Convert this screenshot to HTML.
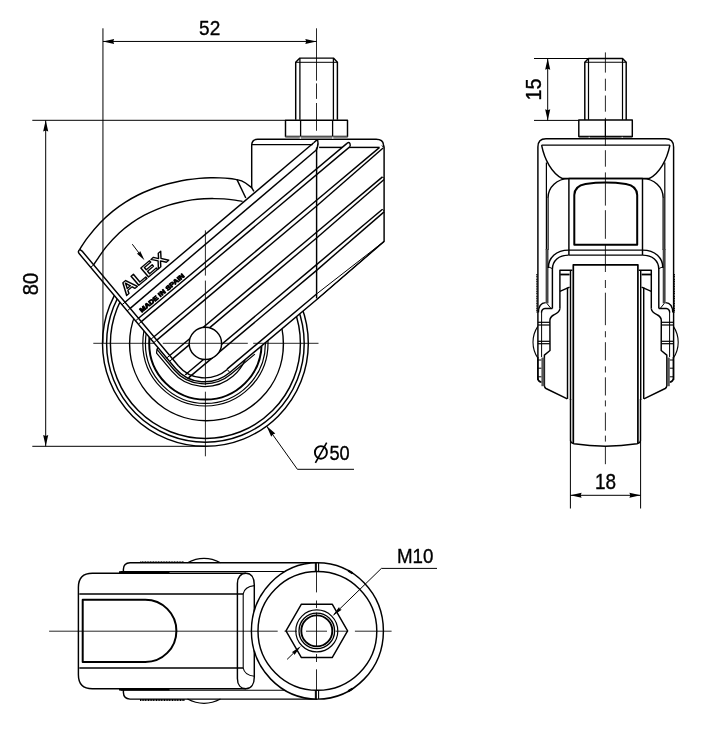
<!DOCTYPE html>
<html><head><meta charset="utf-8"><title>Caster drawing</title>
<style>
html,body{margin:0;padding:0;background:#fff;}
body{width:713px;height:742px;overflow:hidden;}
svg{display:block;will-change:transform;}
svg text{font-family:"Liberation Sans",sans-serif;}
</style></head>
<body>
<svg width="713" height="742" viewBox="0 0 713 742" stroke="#000" fill="none" stroke-linecap="butt" stroke-linejoin="round">
<rect x="0" y="0" width="713" height="742" fill="#fff" stroke="none"/>
<circle cx="205.40" cy="343.40" r="102.90" stroke-width="1.45" fill="none" />
<circle cx="205.40" cy="343.40" r="98.80" stroke-width="1.45" fill="none" />
<circle cx="205.40" cy="343.40" r="95.00" stroke-width="1.45" fill="none" />
<circle cx="205.40" cy="343.40" r="62.60" stroke-width="1.2" fill="none" />
<circle cx="205.40" cy="343.40" r="60.00" stroke-width="1.2" fill="none" />
<circle cx="205.40" cy="343.40" r="56.20" stroke-width="2.0" fill="none" />
<circle cx="206.50" cy="343.90" r="76.90" stroke-width="1.45" fill="none" />
<path d="M 157.85,347.40 L 156.96,349.45 L 173.99,369.75 A 41.0 40.0 -40.0 0 0 231.11,374.04 L 254.86,354.12" stroke-width="1.25" fill="none" />
<path d="M 156.96,349.45 L 156.57,353.04 L 172.00,371.43 A 43.6 42.8 -40.0 0 0 232.91,376.19 A 43.6 42.8 -40.0 0 0 245.15,359.65" stroke-width="1.25" fill="none" />
<path d="M 79.68,249.42 C 81.00,247.45 84.18,242.05 87.60,237.60 C 91.02,233.15 95.98,227.12 100.20,222.70 C 104.42,218.28 108.68,214.53 112.90,211.10 C 117.12,207.67 121.30,204.78 125.50,202.10 C 129.70,199.42 133.90,197.10 138.10,195.00 C 142.30,192.90 146.55,191.12 150.70,189.50 C 154.85,187.88 158.95,186.52 163.00,185.30 C 167.05,184.08 171.00,183.12 175.00,182.20 C 179.00,181.28 183.00,180.43 187.00,179.80 C 191.00,179.17 195.08,178.73 199.00,178.40 C 202.92,178.07 207.00,177.88 210.50,177.80 C 214.00,177.72 216.85,177.78 220.00,177.90 C 223.15,178.02 226.57,178.22 229.40,178.50 C 232.23,178.78 235.73,179.42 237.00,179.60 Q 242.0,180.4 245.5,183.0 L 251.7,187.6 L 251.7,145.3 Q 251.7,139.3 257.7,139.3 L 376.1,139.3 Q 383.1,139.3 383.5,144.9 L 384.1,147.3 L 384.10,241.40 L 317.40,299.03 L 229.83,372.51 A 39.0 38.0 -40.0 0 1 175.52,368.47 L 79.11,253.56 Q 77.43,251.57 79.68,249.42 Z" stroke-width="1.45" fill="#fff" />
<line x1="125.03" y1="302.23" x2="313.70" y2="142.70" stroke-width="1.45" />
<line x1="130.17" y1="308.36" x2="316.00" y2="150.21" stroke-width="1.45" />
<path d="M 313.70,142.70 Q 316.0,140.6 317.6,139.6 Q 318.6,143.5 317.4,147.2 Q 317.0,148.8 316.00,150.21" stroke-width="1.45" fill="none" />
<line x1="251.70" y1="144.60" x2="312.60" y2="144.60" stroke-width="1.3" />
<line x1="251.70" y1="187.60" x2="253.90" y2="191.30" stroke-width="1.45" />
<line x1="138.53" y1="318.31" x2="346.98" y2="143.40" stroke-width="1.45" />
<line x1="141.36" y1="321.68" x2="350.02" y2="146.60" stroke-width="1.45" />
<path d="M 346.98,143.40 Q 350.38,140.60 350.22,146.40" stroke-width="1.45" fill="none" />
<line x1="153.96" y1="336.70" x2="316.60" y2="200.23" stroke-width="1.45" />
<line x1="156.79" y1="340.07" x2="316.60" y2="205.97" stroke-width="1.45" />
<line x1="316.60" y1="200.23" x2="379.32" y2="147.60" stroke-width="1.45" />
<line x1="316.60" y1="205.97" x2="383.10" y2="148.00" stroke-width="1.45" />
<line x1="169.71" y1="355.47" x2="316.60" y2="232.21" stroke-width="1.45" />
<line x1="172.53" y1="358.84" x2="316.60" y2="237.95" stroke-width="1.45" />
<line x1="316.60" y1="232.21" x2="382.50" y2="176.91" stroke-width="1.45" />
<line x1="316.60" y1="237.95" x2="384.10" y2="179.47" stroke-width="1.45" />
<line x1="382.50" y1="176.91" x2="384.10" y2="178.51" stroke-width="1.0" />
<line x1="185.65" y1="374.46" x2="316.60" y2="264.58" stroke-width="1.45" />
<line x1="188.48" y1="377.84" x2="316.60" y2="270.33" stroke-width="1.45" />
<line x1="316.60" y1="264.58" x2="382.50" y2="209.29" stroke-width="1.45" />
<line x1="316.60" y1="270.33" x2="384.10" y2="211.84" stroke-width="1.45" />
<line x1="382.50" y1="209.29" x2="384.10" y2="210.89" stroke-width="1.0" />
<line x1="227.00" y1="369.14" x2="316.60" y2="293.95" stroke-width="1.45" />
<line x1="316.60" y1="293.95" x2="384.10" y2="241.40" stroke-width="1.0" />
<line x1="317.40" y1="299.03" x2="384.10" y2="241.40" stroke-width="1.0" />
<line x1="316.60" y1="147.50" x2="316.60" y2="298.43" stroke-width="1.45" />
<line x1="319.10" y1="147.40" x2="342.22" y2="147.40" stroke-width="1.45" />
<line x1="349.06" y1="147.40" x2="379.60" y2="147.40" stroke-width="1.45" />
<path d="M 381.70000000000005,145.6 L 384.1,147.4" stroke-width="1.0" fill="none" />
<path d="M 93.66,264.84 C 94.24,263.97 94.94,262.67 97.10,259.60 C 99.26,256.53 102.92,250.83 106.60,246.40 C 110.28,241.97 115.00,236.92 119.20,233.00 C 123.40,229.08 127.60,225.87 131.80,222.90 C 136.00,219.93 140.20,217.47 144.40,215.20 C 148.60,212.93 153.07,210.93 157.00,209.30 C 160.93,207.67 164.17,206.58 168.00,205.40 C 171.83,204.22 176.00,203.12 180.00,202.20 C 184.00,201.28 188.00,200.47 192.00,199.90 C 196.00,199.33 200.33,199.02 204.00,198.80 C 207.67,198.58 210.67,198.58 214.00,198.60 C 217.33,198.62 220.50,198.65 224.00,198.90 C 227.50,199.15 231.90,199.68 235.00,200.10 C 238.10,200.52 241.33,201.18 242.60,201.40" stroke-width="1.45" fill="none" />
<line x1="237.00" y1="179.60" x2="245.80" y2="198.00" stroke-width="1.45" />
<path d="M 79.68,249.42 L 82.09,251.06 L 178.51,365.96" stroke-width="1.45" fill="none" />
<path d="M 178.51,365.96 A 35.1 34.0 -40.0 0 0 227.25,369.45" stroke-width="1.45" fill="none" />
<line x1="93.66" y1="264.84" x2="90.68" y2="267.35" stroke-width="1.0" />
<line x1="125.03" y1="302.23" x2="122.04" y2="304.73" stroke-width="1.0" />
<line x1="130.17" y1="308.36" x2="127.19" y2="310.86" stroke-width="1.0" />
<line x1="138.53" y1="318.31" x2="135.54" y2="320.82" stroke-width="1.0" />
<line x1="141.36" y1="321.68" x2="138.37" y2="324.19" stroke-width="1.0" />
<line x1="153.96" y1="336.70" x2="150.97" y2="339.21" stroke-width="1.0" />
<line x1="156.79" y1="340.07" x2="153.80" y2="342.58" stroke-width="1.0" />
<line x1="169.71" y1="355.47" x2="166.72" y2="357.97" stroke-width="1.0" />
<line x1="172.53" y1="358.84" x2="169.55" y2="361.34" stroke-width="1.0" />
<line x1="187.92" y1="372.56" x2="184.69" y2="375.26" stroke-width="1.0" />
<line x1="192.18" y1="374.73" x2="188.79" y2="377.58" stroke-width="1.0" />
<line x1="227.25" y1="369.45" x2="229.83" y2="372.51" stroke-width="1.0" />
<circle cx="205.40" cy="343.40" r="16.20" stroke-width="1.45" fill="#fff" />
<g transform="translate(126.30 295.81) rotate(-40.0)"><text x="0" y="0" font-size="17.5" font-weight="bold" fill="#fff" stroke="#000" stroke-width="1.3" textLength="55.5" lengthAdjust="spacingAndGlyphs">ALEX</text></g>
<g transform="translate(141.79 312.71) rotate(-40.0)"><text x="0" y="0" font-size="6.3" font-weight="bold" fill="#000" stroke="#000" stroke-width="0.85" textLength="56.3" lengthAdjust="spacingAndGlyphs">MADE IN SPAIN</text></g>
<line x1="132.30" y1="244.20" x2="142.00" y2="257.00" stroke-width="1.0" />
<polygon points="144.50,260.20 136.77,253.52 138.98,252.96 140.11,250.97" fill="#000" stroke="none"/>
<path d="M 295.7,119.8 L 295.7,62.3 L 299.9,58.1 L 333.4,58.1 L 337.4,62.3 L 337.4,119.8" stroke-width="1.45" fill="none" />
<line x1="295.70" y1="62.30" x2="337.40" y2="62.30" stroke-width="1.0" />
<line x1="299.90" y1="58.10" x2="299.90" y2="119.80" stroke-width="1.3" />
<line x1="333.40" y1="58.10" x2="333.40" y2="119.80" stroke-width="1.3" />
<rect x="285.5" y="120.2" width="62.0" height="16.2" fill="#fff" stroke-width="1.45"/>
<line x1="300.60" y1="120.10" x2="300.60" y2="136.40" stroke-width="1.3" />
<line x1="332.60" y1="120.10" x2="332.60" y2="136.40" stroke-width="1.3" />
<rect x="285.5" y="136.4" width="62.0" height="2.6" fill="#888" stroke="none"/>
<line x1="300.30" y1="136.90" x2="300.30" y2="139.00" stroke-width="0.9" stroke="#fff"/>
<line x1="332.80" y1="136.90" x2="332.80" y2="139.00" stroke-width="0.9" stroke="#fff"/>
<line x1="316.50" y1="28.30" x2="316.50" y2="130.80" stroke-width="0.85" stroke-dasharray="52.4 2.7 15.5 4.1 28"/>
<line x1="93.30" y1="343.30" x2="318.50" y2="343.30" stroke-width="0.85" stroke-dasharray="61.5 8 85 5.4 66"/>
<line x1="205.40" y1="230.40" x2="205.40" y2="456.30" stroke-width="0.85" stroke-dasharray="45.2 5 104.7 6.4 65"/>
<line x1="102.95" y1="28.30" x2="102.95" y2="343.00" stroke-width="1.0" />
<line x1="102.95" y1="41.45" x2="316.50" y2="41.45" stroke-width="1.0" />
<polygon points="102.95,41.45 114.15,38.90 113.25,41.45 114.15,44.00" fill="#000" stroke="none"/>
<polygon points="316.50,41.45 305.30,44.00 306.20,41.45 305.30,38.90" fill="#000" stroke="none"/>
<text x="0" y="0" font-size="20.8" text-anchor="middle" fill="#000" stroke="#000" stroke-width="0.35" transform="translate(209.70 35.00) scale(0.915 1)">52</text>
<line x1="32.30" y1="120.30" x2="285.40" y2="120.30" stroke-width="1.0" />
<line x1="32.30" y1="446.30" x2="205.00" y2="446.30" stroke-width="1.0" />
<line x1="45.70" y1="120.30" x2="45.70" y2="446.30" stroke-width="1.0" />
<polygon points="45.70,120.30 48.25,131.50 45.70,130.60 43.15,131.50" fill="#000" stroke="none"/>
<polygon points="45.70,446.30 43.15,435.10 45.70,436.00 48.25,435.10" fill="#000" stroke="none"/>
<text x="0" y="0" font-size="21.2" text-anchor="middle" fill="#000" stroke="#000" stroke-width="0.35" transform="translate(38.10 284.00) rotate(-90) scale(0.95 1)">80</text>
<line x1="266.61" y1="426.12" x2="297.40" y2="469.30" stroke-width="1.0" />
<line x1="297.40" y1="469.30" x2="354.00" y2="469.30" stroke-width="1.0" />
<polygon points="266.61,426.12 275.32,433.60 272.73,434.40 271.22,436.64" fill="#000" stroke="none"/>
<ellipse cx="320.9" cy="452.4" rx="6.0" ry="6.3" stroke-width="1.9" fill="none"/>
<line x1="315.40" y1="462.80" x2="326.70" y2="442.60" stroke-width="1.6" />
<text x="0" y="0" font-size="20.6" text-anchor="start" fill="#000" stroke="#000" stroke-width="0.35" transform="translate(329.40 459.60) scale(0.885 1)">50</text>
<path d="M 584.8,119.9 L 584.8,62.3 L 588.5,58.4 L 622.5,58.4 L 626.2,62.3 L 626.2,119.9" stroke-width="1.45" fill="none" />
<line x1="584.80" y1="62.30" x2="626.20" y2="62.30" stroke-width="1.1" />
<line x1="588.50" y1="58.40" x2="588.50" y2="119.90" stroke-width="1.2" />
<line x1="622.50" y1="58.40" x2="622.50" y2="119.90" stroke-width="1.2" />
<rect x="578.8" y="119.9" width="53.5" height="16.6" fill="#fff" stroke-width="1.45"/>
<line x1="605.40" y1="119.90" x2="605.40" y2="136.50" stroke-width="1.2" />
<rect x="578.8" y="136.9" width="53.5" height="2.0" fill="#777" stroke="none"/>
<line x1="589.20" y1="136.80" x2="589.20" y2="139.00" stroke-width="0.9" stroke="#fff"/>
<line x1="622.20" y1="136.80" x2="622.20" y2="139.00" stroke-width="0.9" stroke="#fff"/>
<path d="M 537.9,380 L 537.9,147 Q 537.9,138.8 546,138.8 L 665.4,138.8 Q 673.6,138.8 673.6,147 L 673.6,380" stroke-width="1.45" fill="none" />
<line x1="541.60" y1="145.10" x2="669.90" y2="145.10" stroke-width="1.45" />
<path d="M 541.6,145.1 C 544.5,160 552,173 562,178.4" stroke-width="1.45" fill="none" />
<path d="M 669.9,145.1 C 667.0,160 659.5,173 649.5,178.4" stroke-width="1.45" fill="none" />
<line x1="546.40" y1="162.50" x2="546.40" y2="250.00" stroke-width="1.2" />
<line x1="548.10" y1="198.00" x2="548.10" y2="250.00" stroke-width="1.2" />
<rect x="545.60" y="249" width="2.9" height="54.4" fill="#444" stroke="none"/>
<path d="M 548.00,198.00 C 548.00,187.00 557.00,178.60 568.90,178.60" stroke-width="1.45" fill="none" />
<path d="M 548.30,268.00 C 548.30,258.00 556.00,250.10 568.70,250.10" stroke-width="1.45" fill="none" />
<path d="M 552.40,308.50 L 552.40,269.00 C 552.60,261.00 558.50,255.10 568.70,255.10" stroke-width="1.45" fill="none" />
<line x1="548.60" y1="266.90" x2="552.30" y2="268.60" stroke-width="1.0" />
<line x1="536.90" y1="274.00" x2="536.90" y2="312.50" stroke-width="1.2" stroke-dasharray="1.2 0.5"/>
<path d="M 572.40,270.30 L 559.90,270.30 L 559.90,308.50" stroke-width="1.45" fill="none" />
<line x1="559.90" y1="291.30" x2="569.60" y2="287.10" stroke-width="1.45" />
<line x1="560.20" y1="274.50" x2="569.60" y2="274.50" stroke-width="1.8" />
<line x1="567.50" y1="287.50" x2="567.50" y2="398.90" stroke-width="1.45" />
<line x1="570.50" y1="270.30" x2="570.50" y2="400.00" stroke-width="1.45" />
<path d="M 545.60,302.60 C 541.20,302.80 538.60,305.50 538.40,312.60" stroke-width="1.45" fill="none" />
<path d="M 552.40,308.50 L 545.00,308.50 C 542.60,308.80 541.60,310.00 541.50,312.50" stroke-width="1.45" fill="none" />
<line x1="546.90" y1="303.40" x2="550.60" y2="308.00" stroke-width="1.0" />
<line x1="541.60" y1="312.00" x2="541.60" y2="357.00" stroke-width="1.0" />
<path d="M 559.90,308.50 C 559.60,312.50 556.50,313.60 553.60,315.00 C 550.80,316.60 549.90,318.00 549.90,320.50 L 550.00,350.50 L 544.40,355.10 L 544.40,385.60 Q 544.40,387.60 546.00,388.50 L 567.30,398.90" stroke-width="1.45" fill="none" />
<line x1="537.90" y1="322.30" x2="549.90" y2="322.30" stroke-width="1.2" />
<line x1="537.90" y1="325.00" x2="549.90" y2="325.00" stroke-width="1.2" />
<line x1="537.90" y1="341.30" x2="549.90" y2="341.30" stroke-width="1.2" />
<line x1="537.90" y1="343.70" x2="549.90" y2="343.70" stroke-width="1.2" />
<path d="M 537.80,326.40 C 531.40,336.00 531.40,348.50 537.80,358.00" stroke-width="1.1" fill="none" />
<rect x="541.40" y="357.6" width="3.0" height="28.6" fill="#555" stroke="none"/>
<path d="M 537.80,357.00 L 537.80,378.40 Q 538.00,381.60 541.40,382.20" stroke-width="1.45" fill="none" />
<line x1="537.90" y1="360.00" x2="541.40" y2="360.00" stroke-width="1.0" />
<line x1="537.90" y1="368.20" x2="541.40" y2="368.20" stroke-width="1.0" />
<line x1="537.90" y1="376.80" x2="541.40" y2="376.80" stroke-width="1.0" />
<line x1="664.80" y1="162.50" x2="664.80" y2="250.00" stroke-width="1.2" />
<line x1="663.10" y1="198.00" x2="663.10" y2="250.00" stroke-width="1.2" />
<rect x="662.70" y="249" width="2.9" height="54.4" fill="#444" stroke="none"/>
<path d="M 663.20,198.00 C 663.20,187.00 654.20,178.60 642.30,178.60" stroke-width="1.45" fill="none" />
<path d="M 662.90,268.00 C 662.90,258.00 655.20,250.10 642.50,250.10" stroke-width="1.45" fill="none" />
<path d="M 658.80,308.50 L 658.80,269.00 C 658.60,261.00 652.70,255.10 642.50,255.10" stroke-width="1.45" fill="none" />
<line x1="662.60" y1="266.90" x2="658.90" y2="268.60" stroke-width="1.0" />
<line x1="674.30" y1="274.00" x2="674.30" y2="312.50" stroke-width="1.2" stroke-dasharray="1.2 0.5"/>
<path d="M 638.80,270.30 L 651.30,270.30 L 651.30,308.50" stroke-width="1.45" fill="none" />
<line x1="651.30" y1="291.30" x2="641.60" y2="287.10" stroke-width="1.45" />
<line x1="651.00" y1="274.50" x2="641.60" y2="274.50" stroke-width="1.8" />
<line x1="643.70" y1="287.50" x2="643.70" y2="398.90" stroke-width="1.45" />
<line x1="640.70" y1="270.30" x2="640.70" y2="400.00" stroke-width="1.45" />
<path d="M 665.60,302.60 C 670.00,302.80 672.60,305.50 672.80,312.60" stroke-width="1.45" fill="none" />
<path d="M 658.80,308.50 L 666.20,308.50 C 668.60,308.80 669.60,310.00 669.70,312.50" stroke-width="1.45" fill="none" />
<line x1="664.30" y1="303.40" x2="660.60" y2="308.00" stroke-width="1.0" />
<line x1="669.60" y1="312.00" x2="669.60" y2="357.00" stroke-width="1.0" />
<path d="M 651.30,308.50 C 651.60,312.50 654.70,313.60 657.60,315.00 C 660.40,316.60 661.30,318.00 661.30,320.50 L 661.20,350.50 L 666.80,355.10 L 666.80,385.60 Q 666.80,387.60 665.20,388.50 L 643.90,398.90" stroke-width="1.45" fill="none" />
<line x1="673.30" y1="322.30" x2="661.30" y2="322.30" stroke-width="1.2" />
<line x1="673.30" y1="325.00" x2="661.30" y2="325.00" stroke-width="1.2" />
<line x1="673.30" y1="341.30" x2="661.30" y2="341.30" stroke-width="1.2" />
<line x1="673.30" y1="343.70" x2="661.30" y2="343.70" stroke-width="1.2" />
<path d="M 673.40,326.40 C 679.80,336.00 679.80,348.50 673.40,358.00" stroke-width="1.1" fill="none" />
<rect x="666.80" y="357.6" width="3.0" height="28.6" fill="#555" stroke="none"/>
<path d="M 673.40,357.00 L 673.40,378.40 Q 673.20,381.60 669.80,382.20" stroke-width="1.45" fill="none" />
<line x1="673.30" y1="360.00" x2="669.80" y2="360.00" stroke-width="1.0" />
<line x1="673.30" y1="368.20" x2="669.80" y2="368.20" stroke-width="1.0" />
<line x1="673.30" y1="376.80" x2="669.80" y2="376.80" stroke-width="1.0" />
<path d="M 568.9,255.1 L 568.9,178.4 L 642.5,178.4 L 642.5,255.1" stroke-width="1.45" fill="none" />
<line x1="561.50" y1="178.40" x2="650.00" y2="178.40" stroke-width="1.45" />
<path d="M 574.3,244.7 L 574.3,195.0 Q 574.5,185.8 585.5,183.9 Q 605.7,181.0 625.9,183.9 Q 637.0,185.8 637.2,195.0 L 637.2,244.7 Z" stroke-width="2.0" fill="none" />
<line x1="568.70" y1="250.10" x2="642.70" y2="250.10" stroke-width="1.45" />
<line x1="568.70" y1="255.10" x2="642.70" y2="255.10" stroke-width="1.45" />
<path d="M 573.3,443.2 L 573.3,264.8 L 637.9,264.8 L 637.9,443.2" stroke-width="1.7" fill="none" />
<path d="M 570.5,399 L 570.5,440 Q 570.5,443.0 574,443.7 Q 605.5,448.6 637.0,443.7 Q 640.5,443.0 640.5,440 L 640.5,399" stroke-width="1.45" fill="none" />
<line x1="605.40" y1="52.40" x2="605.40" y2="72.60" stroke-width="0.85" />
<line x1="605.40" y1="78.70" x2="605.40" y2="90.80" stroke-width="0.85" />
<line x1="605.40" y1="95.50" x2="605.40" y2="111.70" stroke-width="0.85" />
<line x1="605.40" y1="117.80" x2="605.40" y2="146.00" stroke-width="0.85" />
<line x1="605.40" y1="150.20" x2="605.40" y2="166.70" stroke-width="0.85" />
<line x1="605.40" y1="172.40" x2="605.40" y2="205.60" stroke-width="0.85" />
<line x1="605.40" y1="210.20" x2="605.40" y2="238.80" stroke-width="0.85" />
<line x1="605.40" y1="244.50" x2="605.40" y2="272.00" stroke-width="0.85" />
<line x1="605.40" y1="280.00" x2="605.40" y2="288.00" stroke-width="0.85" />
<line x1="605.40" y1="292.70" x2="605.40" y2="325.20" stroke-width="0.85" />
<line x1="605.40" y1="331.20" x2="605.40" y2="337.30" stroke-width="0.85" />
<line x1="605.40" y1="342.20" x2="605.40" y2="360.40" stroke-width="0.85" />
<line x1="605.40" y1="366.40" x2="605.40" y2="372.50" stroke-width="0.85" />
<line x1="605.40" y1="377.30" x2="605.40" y2="395.50" stroke-width="0.85" />
<line x1="605.40" y1="400.40" x2="605.40" y2="406.40" stroke-width="0.85" />
<line x1="605.40" y1="412.50" x2="605.40" y2="430.70" stroke-width="0.85" />
<line x1="605.40" y1="435.60" x2="605.40" y2="441.60" stroke-width="0.85" />
<line x1="605.40" y1="446.50" x2="605.40" y2="464.20" stroke-width="0.85" />
<line x1="534.00" y1="58.50" x2="588.00" y2="58.50" stroke-width="1.0" />
<line x1="534.00" y1="120.40" x2="578.80" y2="120.40" stroke-width="1.0" />
<line x1="547.70" y1="58.80" x2="547.70" y2="120.50" stroke-width="1.0" />
<polygon points="547.70,58.50 550.25,69.70 547.70,68.80 545.15,69.70" fill="#000" stroke="none"/>
<polygon points="547.70,120.50 545.15,109.30 547.70,110.20 550.25,109.30" fill="#000" stroke="none"/>
<text x="0" y="0" font-size="21.3" text-anchor="middle" fill="#000" stroke="#000" stroke-width="0.35" transform="translate(541.00 89.50) rotate(-90) scale(0.93 1)">15</text>
<line x1="570.40" y1="440.00" x2="570.40" y2="508.50" stroke-width="1.0" />
<line x1="640.60" y1="440.00" x2="640.60" y2="508.50" stroke-width="1.0" />
<line x1="570.40" y1="495.30" x2="640.60" y2="495.30" stroke-width="1.0" />
<polygon points="570.40,495.30 581.60,492.75 580.70,495.30 581.60,497.85" fill="#000" stroke="none"/>
<polygon points="640.60,495.30 629.40,497.85 630.30,495.30 629.40,492.75" fill="#000" stroke="none"/>
<text x="0" y="0" font-size="21.3" text-anchor="middle" fill="#000" stroke="#000" stroke-width="0.35" transform="translate(605.60 488.70) scale(0.89 1)">18</text>
<path d="M 317.40,562.70 L 130,562.70 Q 123.6,562.90 123.4,569.20 L 123.4,573.1" stroke-width="1.45" fill="none" />
<path d="M 317.40,699.10 L 130,699.10 Q 123.6,698.90 123.4,692.60 L 123.4,688.8" stroke-width="1.45" fill="none" />
<path d="M 187.5,562.70 Q 204,554.10 220.5,562.70" stroke-width="1.1" fill="none" />
<path d="M 187.5,699.10 Q 204,707.70 220.5,699.10" stroke-width="1.1" fill="none" />
<line x1="140.30" y1="561.80" x2="184.00" y2="561.80" stroke-width="1.0" stroke-dasharray="1 0.6"/>
<line x1="140.00" y1="700.00" x2="185.00" y2="700.00" stroke-width="2.0" stroke-dasharray="1.1 0.5"/>
<line x1="119.00" y1="572.20" x2="169.50" y2="572.20" stroke-width="1.8" />
<line x1="119.00" y1="689.60" x2="169.50" y2="689.60" stroke-width="1.8" />
<line x1="120.50" y1="571.50" x2="288.00" y2="571.50" stroke-width="1.1" />
<line x1="120.50" y1="690.30" x2="288.00" y2="690.30" stroke-width="1.1" />
<path d="M 246,573.2 L 92.4,573.2 Q 78.4,573.2 78.4,587.2 L 78.4,674.7 Q 78.4,688.7 92.4,688.7 L 246,688.7" stroke-width="1.45" fill="#fff" />
<line x1="79.30" y1="593.90" x2="243.20" y2="593.90" stroke-width="1.45" />
<line x1="79.30" y1="668.00" x2="243.20" y2="668.00" stroke-width="1.45" />
<path d="M 145.3,599.8 L 82.7,599.8 L 82.7,662.0 L 145.3,662.0 A 31.1 31.1 0 0 0 145.3,599.8 Z" stroke-width="2.0" fill="none" />
<path d="M 237.4,678.5 L 237.4,583.4 C 237.4,577 241,573.2 246,573.2 C 251,573.2 254.3,577.5 254.3,585 L 254.3,677 C 254.3,684.5 251,688.7 246,688.7 C 241,688.7 237.4,685 237.4,678.5" stroke-width="1.45" fill="none" />
<path d="M 243.2,668.0 L 243.2,593.9 C 244.2,588.6 248,586.2 254.3,585.6" stroke-width="1.1" fill="none" />
<path d="M 243.2,668.0 C 244.2,673.3 248,675.7 254.3,676.3" stroke-width="1.1" fill="none" />
<ellipse cx="317.4" cy="630.9" rx="66.0" ry="68.2" fill="#fff" stroke-width="1.45"/>
<circle cx="317.40" cy="630.90" r="59.40" stroke-width="1.45" fill="none" />
<path d="M 348.18,570.57 L 352.57,573.19" stroke-width="2.2" fill="none" />
<path d="M 352.57,688.61 L 348.18,691.23" stroke-width="2.2" fill="none" />
<polygon points="347.60,630.90 332.20,657.57 301.40,657.57 286.00,630.90 301.40,604.23 332.20,604.23" fill="none" stroke-width="1.45"/>
<circle cx="316.80" cy="630.90" r="21.00" stroke-width="1.2" fill="none" />
<circle cx="316.80" cy="630.90" r="17.80" stroke-width="1.3" fill="none" />
<circle cx="316.80" cy="630.90" r="15.50" stroke-width="1.9" fill="none" />
<line x1="315.40" y1="562.70" x2="315.40" y2="571.50" stroke-width="1.1" />
<line x1="318.60" y1="562.70" x2="318.60" y2="571.50" stroke-width="1.1" />
<line x1="315.40" y1="690.30" x2="315.40" y2="699.10" stroke-width="1.1" />
<line x1="318.60" y1="690.30" x2="318.60" y2="699.10" stroke-width="1.1" />
<line x1="49.10" y1="631.20" x2="391.60" y2="631.20" stroke-width="0.85" stroke-dasharray="228.6 6.8 12.5 9 21 8.6 12.5 6.8 36.7"/>
<line x1="316.50" y1="562.10" x2="316.50" y2="699.70" stroke-width="0.85" stroke-dasharray="30.3 8.1 7.5 4.6 33.4 8 8 7.3 30.5"/>
<line x1="381.40" y1="568.40" x2="437.00" y2="568.40" stroke-width="1.0" />
<line x1="381.40" y1="568.40" x2="334.00" y2="614.50" stroke-width="1.0" />
<polygon points="332.50,616.00 339.06,606.97 339.74,608.96 341.71,609.69" fill="#000" stroke="none"/>
<line x1="287.10" y1="659.40" x2="299.00" y2="647.80" stroke-width="1.0" />
<polygon points="301.00,645.90 294.44,654.93 293.76,652.94 291.79,652.21" fill="#000" stroke="none"/>
<text x="0" y="0" font-size="20.4" text-anchor="middle" fill="#000" stroke="#000" stroke-width="0.35" transform="translate(415.20 563.00) scale(0.92 1)">M10</text>
</svg>
</body></html>
